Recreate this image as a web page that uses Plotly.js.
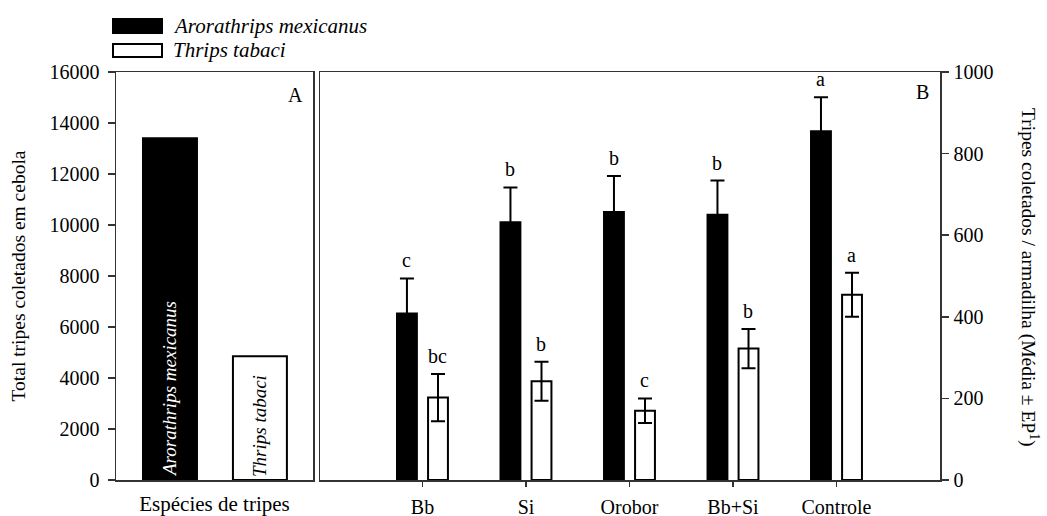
<!DOCTYPE html>
<html>
<head>
<meta charset="utf-8">
<script src="https://cdn.plot.ly/plotly-3.0.1.min.js"></script>
<style>html,body{margin:0;padding:0;background:#fff;}#chart{width:1047px;height:516px;}</style>
</head>
<body>
<div id="chart"></div>
<script>
// ---- data ----
const species = ['Arorathrips mexicanus', 'Thrips tabaci'];
const totalBySpecies = [13400, 4850];
const treatments = ['Bb', 'Si', 'Orobor', 'Bb+Si', 'Controle'];
const meanAm = [408, 632, 657, 650, 855];
const seAm = [86, 85, 88, 84, 83];
const meanTt = [202, 242, 170, 322, 454];
const seTt = [58, 48, 30, 48, 54];
const lettersAm = ['c', 'b', 'b', 'b', 'a'];
const lettersTt = ['bc', 'b', 'c', 'b', 'a'];
const xTitleA = 'Espécies de tripes';
const yTitleA = 'Total tripes coletados em cebola';
const yTitleB = 'Tripes coletados / armadilha (Média ± EP<sup>1</sup>)';

// ---- layout helpers (pixels -> paper) ----
const W = 1047, H = 516, ML = 116, MR = 107, MT = 72, MB = 36;
const PW = W - ML - MR, PH = H - MT - MB;
const px = x => (x - ML) / PW;
const py = y => (H - MB - y) / PH;

const FONT = 'Liberation Serif';
const LC = '#333';
const f = (extra) => Object.assign({family: FONT, size: 20, color: '#000'}, extra || {});

const traces = [
  {
    type: 'bar', x: species, y: totalBySpecies, xaxis: 'x', yaxis: 'y',
    width: 0.6,
    marker: {color: ['#000', '#fff'], line: {color: '#000', width: 2}},
    text: species, textposition: 'inside', insidetextanchor: 'start', textangle: -90,
    textfont: {family: FONT, size: 19, style: 'italic', color: ['#fff', '#000']},
    showlegend: false, hoverinfo: 'x+y'
  },
  {
    type: 'bar', name: species[0], x: treatments, y: meanAm, xaxis: 'x2', yaxis: 'y2',
    marker: {color: '#000', line: {color: '#000', width: 2}},
    error_y: {type: 'data', array: seAm, color: '#000', thickness: 2, width: 7},
    showlegend: false
  },
  {
    type: 'bar', name: species[1], x: treatments, y: meanTt, xaxis: 'x2', yaxis: 'y2',
    marker: {color: '#fff', line: {color: '#000', width: 2}},
    error_y: {type: 'data', array: seTt, color: '#000', thickness: 2, width: 7},
    showlegend: false
  }
];

const annotations = [];
treatments.forEach((t, i) => {
  annotations.push({xref: 'x2', yref: 'y2', x: t, y: meanAm[i] + seAm[i], xshift: -15.5, yshift: 5,
    xanchor: 'center', yanchor: 'bottom', text: lettersAm[i], showarrow: false, font: f()});
  annotations.push({xref: 'x2', yref: 'y2', x: t, y: meanTt[i] + seTt[i], xshift: 15.5, yshift: 5,
    xanchor: 'center', yanchor: 'bottom', text: lettersTt[i], showarrow: false, font: f()});
});
// panel letters
annotations.push({xref: 'paper', yref: 'paper', x: px(295), y: py(95), xanchor: 'center', yanchor: 'middle',
  text: 'A', showarrow: false, font: f()});
annotations.push({xref: 'paper', yref: 'paper', x: px(922), y: py(92), xanchor: 'center', yanchor: 'middle',
  text: 'B', showarrow: false, font: f()});
// right axis title (rotated reading downward)
annotations.push({xref: 'paper', yref: 'paper', x: px(1030), y: py(277), xanchor: 'center', yanchor: 'middle',
  text: yTitleB, textangle: 90, showarrow: false, font: f({size: 19.5})});
// legend labels
annotations.push({xref: 'paper', yref: 'paper', x: px(171), y: py(26), xanchor: 'left', yanchor: 'middle',
  text: species[0], showarrow: false, font: f({style: 'italic', size: 21})});
annotations.push({xref: 'paper', yref: 'paper', x: px(171), y: py(50), xanchor: 'left', yanchor: 'middle',
  text: species[1], showarrow: false, font: f({style: 'italic', size: 21})});

const shapes = [
  {type: 'rect', xref: 'paper', yref: 'paper', x0: px(113), x1: px(162), y0: py(33), y1: py(19),
    fillcolor: '#000', line: {color: '#000', width: 2}},
  {type: 'rect', xref: 'paper', yref: 'paper', x0: px(113), x1: px(162), y0: py(57), y1: py(44),
    fillcolor: '#fff', line: {color: '#000', width: 2}}
];

const axisCommon = {showline: true, linecolor: LC, linewidth: 1.5, showgrid: false, zeroline: false,
  tickcolor: LC, tickwidth: 1.5, tickfont: f()};

const layout = {
  width: W, height: H,
  margin: {l: ML, r: MR, t: MT, b: MB},
  paper_bgcolor: '#fff', plot_bgcolor: '#fff',
  font: f(),
  barmode: 'group', bargap: 0.4, bargroupgap: 0.36,
  xaxis: Object.assign({}, axisCommon, {domain: [0, px(313)], anchor: 'y', type: 'category',
    range: [-0.6, 1.59], mirror: true, ticks: '', showticklabels: false,
    title: {text: xTitleA, font: f({size: 21}), standoff: 17}}),
  yaxis: Object.assign({}, axisCommon, {domain: [0, 1], anchor: 'x', range: [0, 16000], dtick: 2000,
    mirror: true, ticks: 'outside', ticklen: 7, tickformat: 'd', ticklabelstandoff: 4,
    title: {text: yTitleA, font: f({size: 19.5}), standoff: 18}}),
  xaxis2: Object.assign({}, axisCommon, {domain: [px(320), 1], anchor: 'y2', type: 'category',
    range: [-0.99, 5.0], mirror: true, ticks: 'outside', ticklen: 5, ticklabelstandoff: 3}),
  yaxis2: Object.assign({}, axisCommon, {domain: [0, 1], anchor: 'x2', side: 'right', range: [0, 1000],
    dtick: 200, mirror: true, ticks: 'outside', ticklen: 7, ticklabelstandoff: 1}),
  annotations: annotations,
  shapes: shapes
};

Plotly.newPlot('chart', traces, layout, {displayModeBar: false, staticPlot: true});
</script>
</body>
</html>
